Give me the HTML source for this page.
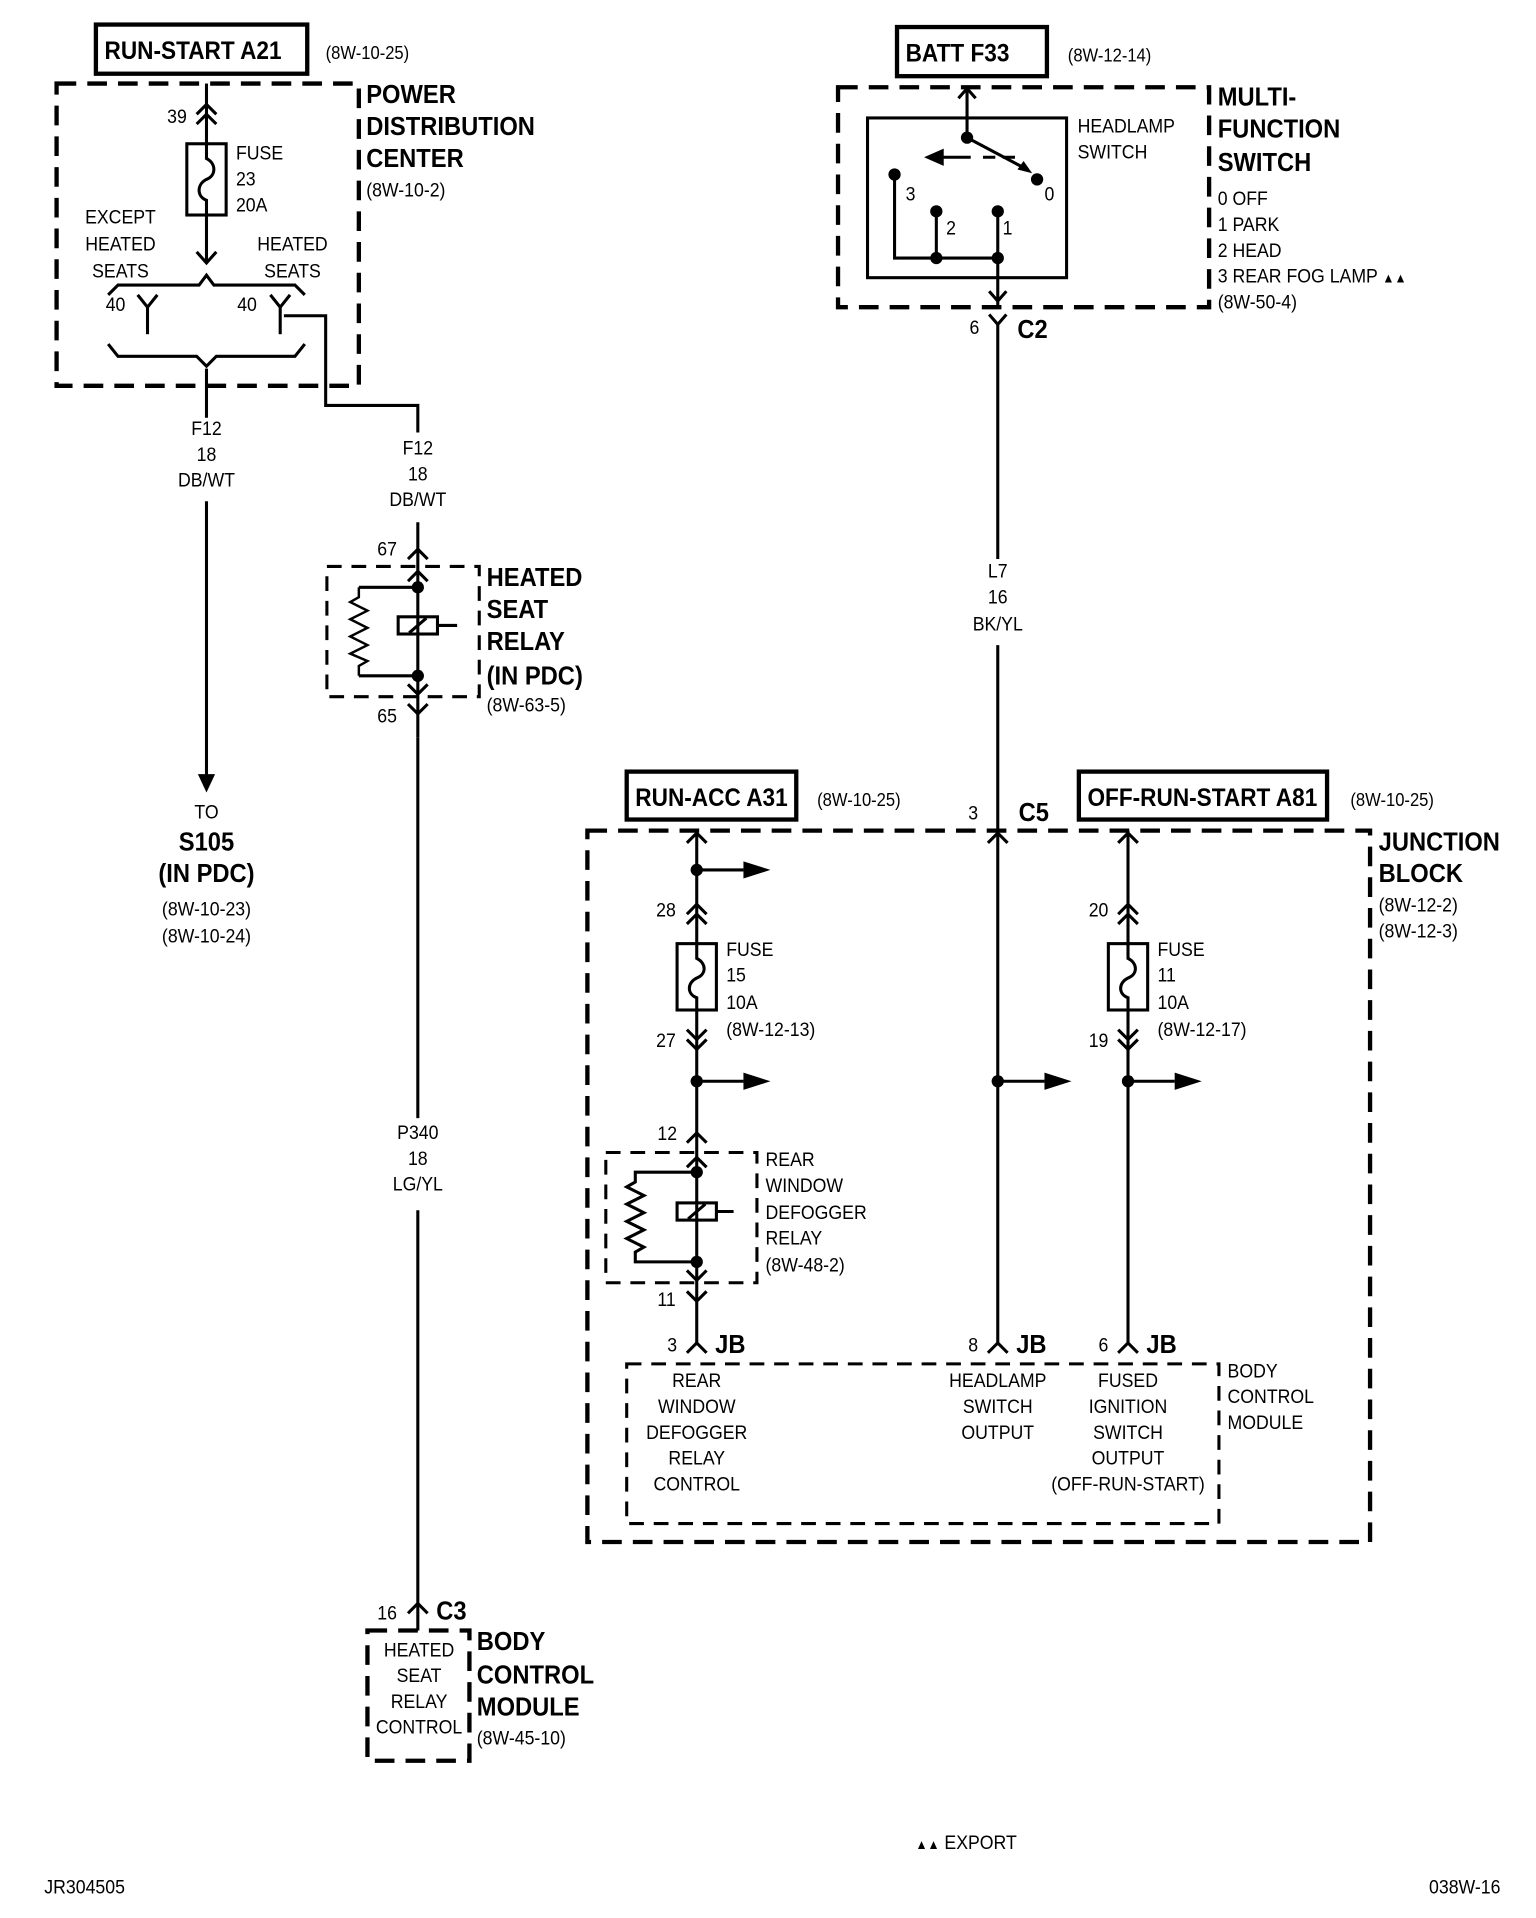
<!DOCTYPE html>
<html><head><meta charset="utf-8">
<style>
html,body{margin:0;padding:0;background:#fff;}
svg{display:block;}
text{font-family:"Liberation Sans",sans-serif;fill:#000;transform-box:fill-box;transform-origin:left center;transform:scaleX(0.9);}
.m text, text.m{transform-origin:center center;}
.bb text, text.bb{transform:scaleX(0.92);}
</style></head><body>
<svg width="1536" height="1918" viewBox="0 0 1250 1561" xmlns="http://www.w3.org/2000/svg">
<g fill="none" stroke="#000" stroke-width="2.5" stroke-linejoin="miter">
<rect x="78" y="20" width="172" height="40" stroke-width="3.5"/>
<rect x="730" y="22" width="122" height="40" stroke-width="3.5"/>
<rect x="510" y="628" width="138" height="39" stroke-width="3.5"/>
<rect x="878" y="628" width="202" height="39" stroke-width="3.5"/>
<g stroke-dasharray="16,9" stroke-width="3.5">
<rect x="46" y="68" width="246" height="246"/>
<rect x="682" y="71" width="302" height="179"/>
<rect x="478" y="676" width="637" height="579"/>
<rect x="299" y="1327" width="83" height="106"/>
</g>
<g stroke-dasharray="12,8" stroke-width="2.5">
<rect x="266" y="461" width="124" height="106"/>
<rect x="493" y="938" width="123" height="106"/>
<rect x="510" y="1110" width="482" height="130"/>
</g>
<line x1="168" y1="68" x2="168" y2="117"/>
<polyline points="160,93 168,85 176,93"/><polyline points="160,101 168,93 176,101"/>
<rect x="152" y="117" width="32" height="58"/>
<path d="M168 117 v12 c8 4 8 14 0 17 c-8 4 -8 14 0 17 v12"/>
<line x1="168" y1="175" x2="168" y2="213"/>
<polyline points="160,205 168,214 176,205"/>
<polyline points="88,240 96,232 162,232 168,224 174,232 240,232 248,240"/>
<polyline points="112,240 120,250 128,240"/><line x1="120" y1="250" x2="120" y2="272"/>
<polyline points="220,240 228,250 236,240"/><line x1="228" y1="250" x2="228" y2="272"/>
<polyline points="231,257 265,257 265,330 340,330 340,352"/>
<polyline points="88,280 96,290 160,290 168,298 176,290 240,290 248,280"/>
<line x1="168" y1="300" x2="168" y2="340"/>
<line x1="168" y1="408" x2="168" y2="632"/>
<line x1="340" y1="425" x2="340" y2="600"/>
<polyline points="332,455 340,447 348,455"/>
<polyline points="332,473 340,465 348,473"/>
<line x1="292" y1="478" x2="340" y2="478"/>
<line x1="292" y1="550" x2="340" y2="550"/>
<polyline points="292,478 292,486 285,490 299,497 285,504 299,511 285,518 299,525 285,532 299,538 292,542 292,550" stroke-width="2"/>
<rect x="324" y="502" width="32" height="14"/>
<line x1="333" y1="515" x2="347" y2="503"/>
<line x1="356" y1="509" x2="372" y2="509"/>
<polyline points="332,557 340,565 348,557"/>
<polyline points="332,573 340,581 348,573"/>
<line x1="340" y1="600" x2="340" y2="910"/>
<line x1="340" y1="985" x2="340" y2="1327"/>
<polyline points="332,1313 340,1305 348,1313"/>
<rect x="706" y="96" width="162" height="130"/>
<line x1="787" y1="71" x2="787" y2="112"/>
<polyline points="780,80 787,72 794,80"/>
<line x1="787" y1="112" x2="836" y2="138"/>
<line x1="800" y1="128" x2="830" y2="128" stroke-dasharray="10,6"/>
<line x1="766" y1="128" x2="790" y2="128"/>
<polyline points="728,142 728,210 812,210"/>
<line x1="762" y1="172" x2="762" y2="210"/>
<line x1="812" y1="172" x2="812" y2="250"/>
<polyline points="805,237 812,245 819,237"/>
<polyline points="805,256 812,264 819,256"/>
<line x1="812" y1="264" x2="812" y2="455"/>
<line x1="812" y1="525" x2="812" y2="1095"/>
<line x1="567" y1="676" x2="567" y2="768"/>
<polyline points="559,686 567,678 575,686"/>
<line x1="567" y1="708" x2="605" y2="708"/>
<polyline points="559,744 567,736 575,744"/><polyline points="559,752 567,744 575,752"/>
<rect x="551" y="768" width="32" height="54"/>
<path d="M567 768 v12 c8 4 8 13 0 16 c-8 4 -8 13 0 16 v10"/>
<line x1="567" y1="822" x2="567" y2="1095"/>
<polyline points="559,838 567,846 575,838"/><polyline points="559,846 567,854 575,846"/>
<line x1="567" y1="880" x2="605" y2="880"/>
<polyline points="559,930 567,922 575,930"/>
<polyline points="559,950 567,942 575,950"/>
<polyline points="567,954 517,954 517,962 510,966 524,973 510,980 524,987 510,994 524,1001 510,1008 524,1015 517,1019 517,1027 567,1027"/>
<rect x="551" y="979" width="32" height="14"/>
<line x1="560" y1="992" x2="574" y2="980"/>
<line x1="583" y1="986" x2="597" y2="986"/>
<polyline points="559,1034 567,1042 575,1034"/>
<polyline points="559,1051 567,1059 575,1051"/>
<polyline points="559,1101 567,1093 575,1101"/>
<polyline points="804,686 812,678 820,686"/>
<line x1="812" y1="880" x2="850" y2="880"/>
<polyline points="804,1101 812,1093 820,1101"/>
<line x1="918" y1="676" x2="918" y2="1095"/>
<polyline points="910,686 918,678 926,686"/>
<polyline points="910,744 918,736 926,744"/><polyline points="910,752 918,744 926,752"/>
<rect x="902" y="768" width="32" height="54" fill="#fff"/>
<path d="M918 768 v12 c8 4 8 13 0 16 c-8 4 -8 13 0 16 v10"/>
<polyline points="910,838 918,846 926,838"/><polyline points="910,846 918,854 926,846"/>
<line x1="918" y1="880" x2="956" y2="880"/>
<polyline points="910,1101 918,1093 926,1101"/>
</g>
<g fill="#000">
<polygon points="161,630 175,630 168,645"/>
<circle cx="340" cy="478" r="5"/><circle cx="340" cy="550" r="5"/>
<circle cx="787" cy="112" r="5"/><circle cx="844" cy="146" r="5"/>
<circle cx="728" cy="142" r="5"/><circle cx="762" cy="172" r="5"/><circle cx="812" cy="172" r="5"/>
<circle cx="762" cy="210" r="5"/><circle cx="812" cy="210" r="5"/>
<polygon points="752,128 768,121 768,135"/>
<polygon points="840,141 828,138 833,131"/>
<circle cx="567" cy="708" r="5"/><polygon points="605,701 627,708 605,715"/>
<circle cx="567" cy="880" r="5"/><polygon points="605,873 627,880 605,887"/>
<circle cx="567" cy="954" r="5"/><circle cx="567" cy="1027" r="5"/>
<circle cx="812" cy="880" r="5"/><polygon points="850,873 872,880 850,887"/>
<circle cx="918" cy="880" r="5"/><polygon points="956,873 978,880 956,887"/>
</g>
<g font-size="20" font-weight="bold" class="bb">
<text x="85" y="48">RUN-START A21</text>
<text x="737" y="50">BATT F33</text>
<text x="517" y="656">RUN-ACC A31</text>
<text x="885" y="656">OFF-RUN-START A81</text>
</g>
<g font-size="15">
<text x="265" y="48">(8W-10-25)</text>
<text x="869" y="50">(8W-12-14)</text>
<text x="665" y="656">(8W-10-25)</text>
<text x="1099" y="656">(8W-10-25)</text>
</g>
<g font-size="21" font-weight="bold" class="bb">
<text x="298" y="84">POWER</text><text x="298" y="110">DISTRIBUTION</text><text x="298" y="136">CENTER</text>
<text x="991" y="86">MULTI-</text><text x="991" y="112">FUNCTION</text><text x="991" y="139">SWITCH</text>
<text x="396" y="477">HEATED</text><text x="396" y="503">SEAT</text><text x="396" y="529">RELAY</text><text x="396" y="557">(IN PDC)</text>
<text x="388" y="1343">BODY</text><text x="388" y="1370">CONTROL</text><text x="388" y="1396">MODULE</text>
<text x="1122" y="692">JUNCTION</text><text x="1122" y="718">BLOCK</text>
<text x="168" y="692" text-anchor="middle" class="m">S105</text><text x="168" y="718" text-anchor="middle" class="m">(IN PDC)</text>
<text x="355" y="1318">C3</text><text x="828" y="275">C2</text><text x="829" y="668">C5</text>
<text x="582" y="1101">JB</text><text x="827" y="1101">JB</text><text x="933" y="1101">JB</text>
</g>
<g font-size="16">
<text x="298" y="160">(8W-10-2)</text>
<text x="136" y="100">39</text>
<text x="192" y="130">FUSE</text><text x="192" y="151">23</text><text x="192" y="172">20A</text>
<g text-anchor="middle" class="m">
<text x="98" y="182">EXCEPT</text><text x="98" y="204">HEATED</text><text x="98" y="226">SEATS</text>
<text x="238" y="204">HEATED</text><text x="238" y="226">SEATS</text>
<text x="168" y="354">F12</text><text x="168" y="375">18</text><text x="168" y="396">DB/WT</text>
<text x="340" y="370">F12</text><text x="340" y="391">18</text><text x="340" y="412">DB/WT</text>
<text x="168" y="666">TO</text>
<text x="168" y="745">(8W-10-23)</text><text x="168" y="767">(8W-10-24)</text>
<text x="340" y="927">P340</text><text x="340" y="948">18</text><text x="340" y="969">LG/YL</text>
<text x="341" y="1348">HEATED</text><text x="341" y="1369">SEAT</text><text x="341" y="1390">RELAY</text><text x="341" y="1411">CONTROL</text>
<text x="812" y="470">L7</text><text x="812" y="491">16</text><text x="812" y="513">BK/YL</text>
<text x="567" y="1129">REAR</text><text x="567" y="1150">WINDOW</text><text x="567" y="1171">DEFOGGER</text><text x="567" y="1192">RELAY</text><text x="567" y="1213">CONTROL</text>
<text x="812" y="1129">HEADLAMP</text><text x="812" y="1150">SWITCH</text><text x="812" y="1171">OUTPUT</text>
<text x="918" y="1129">FUSED</text><text x="918" y="1150">IGNITION</text><text x="918" y="1171">SWITCH</text><text x="918" y="1192">OUTPUT</text><text x="918" y="1213">(OFF-RUN-START)</text>
</g>
<text x="86" y="253">40</text><text x="193" y="253">40</text>
<text x="307" y="452">67</text><text x="307" y="588">65</text>
<text x="396" y="579">(8W-63-5)</text>
<text x="307" y="1318">16</text>
<text x="388" y="1420">(8W-45-10)</text>
<text x="877" y="108">HEADLAMP</text><text x="877" y="129">SWITCH</text>
<text x="737" y="163">3</text><text x="850" y="163">0</text><text x="770" y="191">2</text><text x="816" y="191">1</text>
<text x="991" y="167">0 OFF</text><text x="991" y="188">1 PARK</text><text x="991" y="209">2 HEAD</text>
<text x="991" y="230">3 REAR FOG LAMP <tspan font-size="11">▲▲</tspan></text>
<text x="991" y="251">(8W-50-4)</text>
<text x="789" y="272">6</text><text x="788" y="667">3</text>
<text x="1122" y="742">(8W-12-2)</text><text x="1122" y="763">(8W-12-3)</text>
<text x="534" y="746">28</text><text x="534" y="852">27</text>
<text x="591" y="778">FUSE</text><text x="591" y="799">15</text><text x="591" y="821">10A</text><text x="591" y="843">(8W-12-13)</text>
<text x="886" y="746">20</text><text x="886" y="852">19</text>
<text x="942" y="778">FUSE</text><text x="942" y="799">11</text><text x="942" y="821">10A</text><text x="942" y="843">(8W-12-17)</text>
<text x="535" y="928">12</text><text x="535" y="1063">11</text>
<text x="623" y="949">REAR</text><text x="623" y="970">WINDOW</text><text x="623" y="992">DEFOGGER</text><text x="623" y="1013">RELAY</text><text x="623" y="1035">(8W-48-2)</text>
<text x="543" y="1100">3</text><text x="788" y="1100">8</text><text x="894" y="1100">6</text>
<text x="999" y="1121">BODY</text><text x="999" y="1142">CONTROL</text><text x="999" y="1163">MODULE</text>
<text x="745" y="1505"><tspan font-size="11">▲▲</tspan> EXPORT</text>
<text x="36" y="1541">JR304505</text>
<text x="1163" y="1541">038W-16</text>
</g>
</svg>
</body></html>
